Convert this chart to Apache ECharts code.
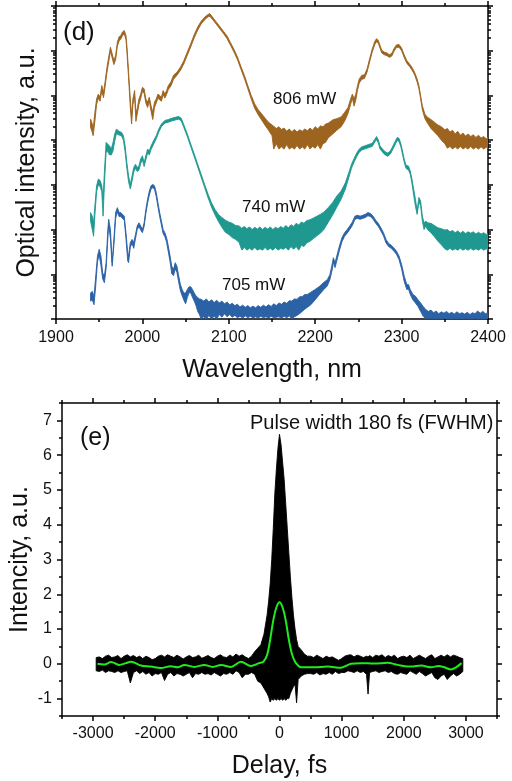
<!DOCTYPE html>
<html><head><meta charset="utf-8">
<script src="https://cdn.jsdelivr.net/npm/echarts@6/dist/echarts.min.js"></script>
<style>html,body{margin:0;padding:0;background:#fff}#c{width:512px;height:781px}</style>
</head><body><div id="c"></div>
<script>
// ---- Panel (d): spectra, values in decades of the log intensity axis: [wavelength nm, upper, lower]
const spec806 = [[1940,4.47,4.29],[1942,4.36,4.17],[1943,4.25,4.10],[1945,4.62,4.42],[1947,4.92,4.80],[1949,5.03,4.94],[1951,4.96,4.87],[1953,5.22,5.10],[1955,5.07,4.95],[1957,5.33,5.22],[1959,5.63,5.52],[1961,5.86,5.75],[1963,6.08,5.99],[1965,5.93,5.84],[1967,5.78,5.69],[1969,5.89,5.80],[1971,6.19,6.10],[1973,6.31,6.22],[1975,6.34,6.26],[1977,6.42,6.34],[1979,6.45,6.38],[1981,6.34,6.25],[1982,6.12,6.00],[1984,5.52,5.40],[1986,4.92,4.74],[1987.5,4.55,4.36],[1989,4.92,4.79],[1991,5.11,4.98],[1992.5,4.62,4.42],[1994,4.70,4.58],[1996,4.92,4.80],[1998,5.03,4.93],[2000,5.18,5.09],[2002,5.15,5.05],[2004,4.92,4.83],[2006,4.85,4.73],[2008,4.96,4.87],[2010,4.77,4.65],[2012,4.62,4.46],[2014,4.85,4.73],[2016,4.92,4.83],[2018,5.03,4.94],[2020,5.00,4.90],[2022,4.96,4.87],[2024,5.11,5.02],[2026,5.03,4.94],[2028,5.11,5.02],[2030,5.22,5.13],[2033,5.30,5.21],[2036,5.45,5.36],[2040,5.52,5.45],[2044,5.63,5.56],[2048,5.78,5.71],[2052,5.97,5.90],[2056,6.16,6.09],[2060,6.36,6.29],[2064,6.53,6.46],[2068,6.66,6.60],[2072,6.75,6.69],[2076,6.81,6.76],[2078,6.83,6.77],[2082,6.73,6.68],[2086,6.63,6.58],[2090,6.53,6.48],[2094,6.43,6.38],[2098,6.33,6.27],[2102,6.18,6.12],[2106,6.03,5.97],[2110,5.86,5.80],[2114,5.65,5.59],[2118,5.45,5.38],[2122,5.22,5.15],[2126,5.00,4.92],[2130,4.81,4.71],[2134,4.68,4.57],[2138,4.59,4.45],[2142,4.49,4.33],[2146,4.40,4.22],[2150,4.34,4.10],[2152,4.31,3.80],[2155,4.26,3.92],[2158,4.30,3.80],[2161,4.24,3.85],[2164,4.27,3.80],[2167,4.20,3.90],[2170,4.25,3.80],[2173,4.19,3.84],[2176,4.24,3.80],[2179,4.18,3.88],[2182,4.23,3.80],[2185,4.20,3.85],[2188,4.25,3.80],[2191,4.21,3.90],[2194,4.27,3.80],[2197,4.22,3.86],[2200,4.30,3.82],[2203,4.25,3.90],[2206,4.32,3.80],[2209,4.30,3.92],[2212,4.36,3.95],[2215,4.38,4.05],[2218,4.42,4.10],[2221,4.46,4.15],[2225,4.48,4.22],[2230,4.52,4.30],[2234,4.62,4.42],[2238,4.73,4.60],[2241,4.92,4.80],[2243,5.03,4.94],[2245,4.92,4.76],[2247,5.03,4.90],[2249,5.22,5.12],[2251,5.37,5.28],[2254,5.45,5.36],[2257,5.46,5.38],[2260,5.59,5.52],[2263,5.82,5.75],[2266,6.04,5.97],[2269,6.21,6.14],[2271,6.27,6.20],[2273,6.23,6.17],[2275,6.12,6.06],[2277,6.01,5.95],[2280,5.97,5.91],[2283,5.95,5.89],[2286,5.91,5.85],[2289,5.95,5.89],[2291,6.04,5.98],[2294,6.13,6.07],[2297,6.14,6.08],[2300,6.06,6.00],[2303,5.91,5.85],[2306,5.78,5.72],[2309,5.71,5.65],[2312,5.63,5.57],[2315,5.52,5.46],[2318,5.37,5.30],[2320,5.22,5.15],[2322,5.00,4.93],[2324,4.77,4.68],[2327,4.58,4.48],[2330,4.51,4.38],[2334,4.46,4.26],[2338,4.40,4.18],[2342,4.34,4.10],[2346,4.30,4.00],[2350,4.23,3.92],[2353,4.26,3.82],[2356,4.18,3.86],[2359,4.22,3.80],[2362,4.14,3.85],[2365,4.20,3.80],[2368,4.11,3.86],[2371,4.16,3.80],[2374,4.09,3.84],[2377,4.14,3.80],[2380,4.08,3.86],[2383,4.12,3.80],[2386,4.06,3.84],[2389,4.11,3.80],[2392,4.05,3.85],[2395,4.08,3.80],[2398,4.03,3.84],[2400,4.06,3.82]];
const spec740 = [[1940,2.38,2.19],[1942,2.30,2.00],[1943.5,2.15,1.85],[1945,2.53,2.32],[1947,2.98,2.85],[1949,3.13,3.00],[1951,3.10,2.96],[1953,2.98,2.85],[1954.5,2.68,2.30],[1956,3.28,3.00],[1958,3.95,3.74],[1960,3.91,3.74],[1962,3.87,3.67],[1964,3.80,3.67],[1966,3.95,3.76],[1968,4.14,3.98],[1970,4.25,4.15],[1972,4.21,4.12],[1974,4.19,4.11],[1976,4.17,4.09],[1978,4.10,4.00],[1980,3.87,3.74],[1982,3.50,3.37],[1984,3.20,3.07],[1986,3.01,2.91],[1988,3.20,3.08],[1990,3.39,3.29],[1992,3.46,3.37],[1994,3.39,3.30],[1996,3.42,3.33],[1998,3.58,3.48],[2000,3.65,3.56],[2002,3.50,3.41],[2004,3.65,3.56],[2006,3.80,3.71],[2008,3.76,3.67],[2010,3.87,3.79],[2013,3.99,3.91],[2016,4.10,4.03],[2019,4.25,4.18],[2022,4.36,4.30],[2026,4.44,4.38],[2030,4.46,4.40],[2034,4.49,4.43],[2038,4.51,4.45],[2042,4.53,4.47],[2045,4.49,4.43],[2048,4.34,4.28],[2052,4.14,4.08],[2056,3.91,3.85],[2060,3.69,3.63],[2064,3.46,3.40],[2068,3.24,3.17],[2072,3.01,2.94],[2076,2.79,2.71],[2080,2.60,2.50],[2084,2.45,2.33],[2088,2.34,2.18],[2092,2.27,2.05],[2096,2.21,1.94],[2100,2.17,1.89],[2104,2.14,1.82],[2108,2.09,1.78],[2112,2.08,1.71],[2115,2.03,1.54],[2118,2.07,1.60],[2121,2.02,1.54],[2124,2.06,1.58],[2127,2.00,1.54],[2130,2.05,1.60],[2133,2.01,1.54],[2136,2.06,1.57],[2139,2.00,1.54],[2142,2.05,1.60],[2145,2.01,1.54],[2148,2.06,1.58],[2151,2.00,1.54],[2154,2.05,1.60],[2157,2.02,1.54],[2160,2.07,1.58],[2163,2.03,1.56],[2166,2.09,1.60],[2169,2.04,1.54],[2172,2.11,1.62],[2175,2.07,1.56],[2178,2.14,1.62],[2181,2.10,1.54],[2184,2.17,1.65],[2187,2.14,1.62],[2190,2.20,1.70],[2194,2.22,1.74],[2198,2.26,1.80],[2202,2.30,1.86],[2206,2.34,1.92],[2210,2.39,2.00],[2215,2.49,2.16],[2220,2.60,2.32],[2225,2.75,2.50],[2230,2.86,2.68],[2235,3.05,2.91],[2239,3.28,3.17],[2242,3.46,3.37],[2245,3.59,3.51],[2248,3.71,3.63],[2251,3.80,3.73],[2254,3.85,3.78],[2257,3.87,3.80],[2260,3.89,3.82],[2263,3.91,3.84],[2266,3.93,3.86],[2269,4.02,3.96],[2271,4.08,4.01],[2273,4.01,3.94],[2275,3.87,3.80],[2278,3.80,3.73],[2281,3.74,3.67],[2284,3.71,3.64],[2287,3.76,3.69],[2290,3.87,3.80],[2293,3.99,3.92],[2295,4.06,3.99],[2297,4.04,3.97],[2299,3.93,3.86],[2301,3.76,3.69],[2303,3.58,3.51],[2305,3.44,3.37],[2308,3.42,3.33],[2310,3.31,3.24],[2312,3.13,3.03],[2314,2.90,2.77],[2316,2.68,2.52],[2318,2.42,2.34],[2320,2.72,2.61],[2322,2.64,2.54],[2324,2.30,2.19],[2326,2.15,2.00],[2328,2.19,2.08],[2330,2.15,2.00],[2334,2.14,1.93],[2338,2.09,1.84],[2342,2.04,1.74],[2346,2.02,1.66],[2350,1.99,1.57],[2353,2.00,1.54],[2356,1.95,1.58],[2359,1.98,1.54],[2362,1.93,1.57],[2365,1.97,1.54],[2368,1.92,1.58],[2371,1.96,1.54],[2374,1.91,1.57],[2377,1.95,1.54],[2380,1.92,1.58],[2383,1.95,1.54],[2386,1.90,1.57],[2389,1.94,1.54],[2392,1.90,1.58],[2395,1.93,1.54],[2398,1.89,1.57],[2400,1.91,1.54]];
const spec705 = [[1940,0.58,0.40],[1942,0.62,0.43],[1944,0.51,0.32],[1946,0.96,0.75],[1948,1.41,1.28],[1950,1.56,1.43],[1952,1.41,1.20],[1954,1.03,0.90],[1956,0.96,0.81],[1958,1.26,1.13],[1960,2.00,1.80],[1961,2.23,2.10],[1963,2.00,1.80],[1965,1.26,1.18],[1967,1.78,1.65],[1969,2.38,2.25],[1971,2.49,2.40],[1973,2.38,2.29],[1975,2.38,2.29],[1977,2.34,2.25],[1979,2.30,2.21],[1981,1.93,1.80],[1983,1.48,1.30],[1984,1.41,1.26],[1986,1.71,1.61],[1988,1.78,1.69],[1990,1.71,1.58],[1992,1.89,1.80],[1994,2.08,2.00],[1996,2.15,2.07],[1998,2.08,1.99],[2000,2.00,1.93],[2002,2.15,2.07],[2004,2.45,2.36],[2006,2.68,2.59],[2008,2.86,2.77],[2010,2.98,2.90],[2012,3.01,2.94],[2014,2.98,2.90],[2016,2.83,2.74],[2018,2.60,2.51],[2020,2.38,2.29],[2022,2.19,2.10],[2024,2.00,1.91],[2026,1.93,1.84],[2028,1.82,1.72],[2030,1.63,1.50],[2032,1.41,1.28],[2034,1.18,1.01],[2036,1.11,0.97],[2038,1.26,1.12],[2040,1.18,1.04],[2042,0.96,0.82],[2044,0.77,0.63],[2046,0.66,0.52],[2048,0.58,0.42],[2050,0.58,0.34],[2052,0.66,0.48],[2054,0.72,0.59],[2056,0.72,0.58],[2058,0.66,0.48],[2060,0.58,0.40],[2062,0.52,0.30],[2064,0.48,0.17],[2066,0.45,0.10],[2068,0.44,0.00],[2071,0.40,0.05],[2074,0.45,0.00],[2077,0.38,0.08],[2080,0.43,0.00],[2083,0.37,0.06],[2086,0.42,0.00],[2089,0.36,0.10],[2092,0.40,0.04],[2095,0.34,0.12],[2098,0.38,0.05],[2101,0.32,0.10],[2104,0.35,0.04],[2107,0.30,0.08],[2110,0.33,0.03],[2113,0.27,0.06],[2116,0.31,0.02],[2119,0.26,0.07],[2122,0.30,0.03],[2125,0.25,0.06],[2128,0.29,0.02],[2131,0.25,0.05],[2134,0.30,0.02],[2137,0.26,0.06],[2140,0.31,0.03],[2143,0.27,0.05],[2146,0.32,0.02],[2149,0.28,0.06],[2152,0.34,0.03],[2155,0.30,0.04],[2158,0.36,0.05],[2161,0.33,0.02],[2164,0.38,0.06],[2167,0.35,0.03],[2170,0.41,0.07],[2173,0.40,0.00],[2176,0.45,0.05],[2179,0.44,0.08],[2182,0.50,0.12],[2185,0.50,0.17],[2188,0.55,0.22],[2191,0.55,0.26],[2195,0.60,0.32],[2200,0.66,0.43],[2205,0.73,0.55],[2210,0.82,0.66],[2214,0.88,0.74],[2217,0.99,0.88],[2220,1.26,1.13],[2221,1.37,1.27],[2223,1.26,1.15],[2225,1.41,1.30],[2228,1.63,1.53],[2231,1.82,1.73],[2234,1.93,1.85],[2237,2.00,1.92],[2240,2.08,2.00],[2243,2.17,2.09],[2246,2.30,2.23],[2249,2.32,2.25],[2252,2.30,2.23],[2255,2.32,2.25],[2258,2.34,2.27],[2261,2.38,2.31],[2264,2.36,2.29],[2267,2.30,2.23],[2270,2.21,2.14],[2273,2.14,2.07],[2276,2.04,1.97],[2279,1.93,1.86],[2282,1.78,1.70],[2285,1.69,1.62],[2288,1.65,1.58],[2291,1.59,1.52],[2294,1.52,1.45],[2297,1.41,1.33],[2300,1.22,1.12],[2303,0.96,0.84],[2306,0.77,0.66],[2308,0.77,0.67],[2310,0.66,0.55],[2313,0.55,0.43],[2316,0.51,0.36],[2319,0.43,0.28],[2322,0.36,0.17],[2325,0.28,0.06],[2328,0.21,0.00],[2331,0.17,0.03],[2334,0.20,0.00],[2337,0.14,0.02],[2340,0.18,0.00],[2343,0.12,0.02],[2346,0.16,0.00],[2349,0.13,0.02],[2352,0.17,0.00],[2355,0.12,0.01],[2358,0.15,0.00],[2361,0.11,0.02],[2364,0.16,0.00],[2367,0.12,0.01],[2370,0.14,0.00],[2373,0.11,0.02],[2376,0.15,0.00],[2379,0.10,0.01],[2382,0.14,0.00],[2385,0.12,0.02],[2388,0.18,0.00],[2391,0.13,0.01],[2394,0.17,0.00],[2397,0.12,0.02],[2400,0.14,0.00]];
const specNames = ['806 mW', '740 mW', '705 mW'];
const wlMajorTicks = [1900, 2000, 2100, 2200, 2300, 2400];
const wlMinorTicks = [1950, 2050, 2150, 2250, 2350];
const decadeTicks = [0, 1, 2, 3, 4, 5, 6, 7];

// ---- Panel (e): autocorrelation trace [delay fs, upper, lower] and fit
const acTrace = [[-2950,0.18,-0.2],[-2900,0.2,-0.22],[-2850,0.15,-0.18],[-2800,0.22,-0.25],[-2750,0.25,-0.2],[-2700,0.18,-0.22],[-2650,0.2,-0.25],[-2600,0.24,-0.2],[-2550,0.15,-0.25],[-2500,0.22,-0.22],[-2450,0.26,-0.2],[-2400,0.2,-0.55],[-2350,0.24,-0.25],[-2300,0.18,-0.2],[-2250,0.22,-0.28],[-2200,0.15,-0.22],[-2150,0.22,-0.3],[-2100,0.18,-0.25],[-2050,0.12,-0.35],[-2000,0.15,-0.28],[-1950,0.22,-0.3],[-1900,0.25,-0.25],[-1850,0.2,-0.48],[-1800,0.26,-0.3],[-1750,0.22,-0.25],[-1700,0.18,-0.35],[-1650,0.25,-0.28],[-1600,0.2,-0.3],[-1550,0.14,-0.35],[-1500,0.2,-0.3],[-1450,0.24,-0.25],[-1400,0.18,-0.4],[-1350,0.2,-0.28],[-1300,0.25,-0.3],[-1250,0.16,-0.25],[-1200,0.2,-0.3],[-1150,0.24,-0.28],[-1100,0.18,-0.32],[-1050,0.15,-0.25],[-1000,0.22,-0.3],[-950,0.26,-0.35],[-900,0.2,-0.28],[-850,0.18,-0.3],[-800,0.25,-0.25],[-750,0.2,-0.3],[-700,0.28,-0.2],[-650,0.22,-0.25],[-600,0.26,-0.4],[-550,0.2,-0.3],[-500,0.15,-0.3],[-450,0.22,-0.25],[-400,0.35,-0.3],[-350,0.45,-0.5],[-300,0.55,-0.55],[-250,0.85,-0.7],[-200,1.4,-0.85],[-175,1.8,-0.95],[-150,2.3,-1.1],[-125,3.0,-1.0],[-100,3.9,-1.05],[-75,4.9,-1.0],[-50,5.6,-1.05],[-25,6.2,-1.0],[0,6.6,-1.05],[25,6.3,-1.0],[50,5.8,-1.05],[75,5.3,-1.0],[100,4.6,-1.05],[125,3.9,-1.0],[150,3.2,-1.0],[175,2.5,-0.85],[200,1.9,-0.75],[225,1.4,-0.65],[250,1.0,-0.6],[275,0.7,-1.12],[300,0.5,-0.45],[350,0.4,-0.35],[400,0.28,-0.3],[450,0.22,-0.28],[500,0.22,-0.28],[550,0.18,-0.3],[600,0.25,-0.25],[650,0.2,-0.32],[700,0.15,-0.28],[750,0.22,-0.3],[800,0.18,-0.25],[850,0.2,-0.3],[900,0.15,-0.22],[950,0.1,-0.28],[1000,0.15,-0.25],[1050,0.22,-0.25],[1100,0.25,-0.2],[1150,0.26,-0.22],[1200,0.2,-0.25],[1250,0.25,-0.2],[1300,0.22,-0.25],[1350,0.18,-0.22],[1400,0.22,-0.3],[1425,0.2,-0.87],[1450,0.24,-0.25],[1500,0.18,-0.22],[1550,0.25,-0.2],[1600,0.22,-0.25],[1650,0.26,-0.22],[1700,0.18,-0.2],[1750,0.24,-0.25],[1800,0.2,-0.22],[1850,0.25,-0.28],[1900,0.15,-0.3],[1950,0.2,-0.25],[2000,0.22,-0.28],[2050,0.18,-0.3],[2100,0.25,-0.2],[2150,0.15,-0.25],[2200,0.2,-0.3],[2250,0.25,-0.22],[2300,0.2,-0.28],[2350,0.15,-0.35],[2400,0.22,-0.3],[2450,0.26,-0.25],[2500,0.15,-0.4],[2550,0.2,-0.45],[2600,0.25,-0.35],[2650,0.2,-0.3],[2700,0.26,-0.45],[2750,0.2,-0.35],[2800,0.25,-0.28],[2850,0.22,-0.35],[2900,0.18,-0.3],[2950,0.15,-0.22]];
const acFit = [[-2930,0.0],[-2820,-0.02],[-2710,0.05],[-2580,-0.03],[-2470,0.02],[-2390,0.06],[-2230,-0.05],[-2070,-0.08],[-1910,-0.12],[-1750,-0.07],[-1640,-0.1],[-1530,-0.03],[-1370,-0.09],[-1210,-0.03],[-1075,-0.09],[-940,-0.03],[-780,-0.09],[-620,0.06],[-460,-0.06],[-330,0.02],[-260,0.06],[-200,0.25],[-150,0.7],[-100,1.25],[-50,1.62],[0,1.77],[50,1.62],[100,1.25],[150,0.7],[200,0.28],[250,0.06],[300,-0.05],[350,-0.1],[560,-0.1],[775,-0.08],[990,-0.11],[1150,0.0],[1310,0.02],[1525,0.01],[1740,0.03],[1900,-0.03],[2115,-0.08],[2280,-0.05],[2440,-0.1],[2560,-0.06],[2650,-0.1],[2760,-0.16],[2840,-0.1],[2930,0.02]];
const delayMajorTicks = [-3000, -2000, -1000, 0, 1000, 2000, 3000];
const delayMinorTicks = [-3500, -2500, -1500, -500, 500, 1500, 2500, 3500];
const intensityTicks = [-1, 0, 1, 2, 3, 4, 5, 6, 7];
const intensityMinorTicks = [-1.5, -0.5, 0.5, 1.5, 2.5, 3.5, 4.5, 5.5, 6.5, 7.5];

// log-spaced minor tick positions within each decade
const decadeMinorTicks = [];
for (let d = 0; d < 7; d++) for (let k = 2; k <= 9; k++) decadeMinorTicks.push(+(d + Math.log10(k)).toFixed(4));

const FONT = 'Liberation Sans, Arial, sans-serif';
const INK = '#111';
const AX = { color: '#000', width: 1.5 };
const plain = v => String(v);

function axPair(grid, min, max, pos, major, minor, opts) {
  const base = { gridIndex: grid, type: 'value', min, max, position: pos, splitLine: { show: false } };
  return [
    Object.assign({}, base, {
      axisLine: { show: true, onZero: false, lineStyle: AX },
      axisTick: { show: true, customValues: major, length: 5, lineStyle: AX },
      axisLabel: opts.labels ? { show: true, customValues: major, formatter: plain, margin: opts.margin, fontSize: 16, color: INK, fontFamily: FONT } : { show: false },
      name: opts.name || '', nameLocation: 'middle', nameGap: opts.nameGap || 0, nameMoveOverlap: false,
      nameTextStyle: { fontSize: 25, color: INK, fontFamily: FONT }
    }),
    Object.assign({}, base, {
      axisLine: { show: false, onZero: false },
      axisTick: { show: true, customValues: minor, length: 3, lineStyle: AX },
      axisLabel: { show: false }
    })
  ];
}

// band = one filled polygon between the upper and lower readings of a trace
function bandSeries(data, color, xi, yi, lw) {
  return {
    type: 'custom', xAxisIndex: xi, yAxisIndex: yi, silent: true, clip: true, animation: false,
    data: [[data[0][0], data[0][1]]],
    renderItem: function (params, api) {
      const pts = [];
      for (let i = 0; i < data.length; i++) pts.push(api.coord([data[i][0], data[i][1]]));
      for (let i = data.length - 1; i >= 0; i--) pts.push(api.coord([data[i][0], data[i][2]]));
      return { type: 'polygon', shape: { points: pts },
        style: { fill: color, stroke: color, lineWidth: lw, lineJoin: 'round' } };
    }
  };
}

const xAxes = [].concat(
  axPair(0, 1900, 2400, 'bottom', wlMajorTicks, wlMinorTicks, { labels: true, margin: 11, name: 'Wavelength, nm', nameGap: 39 }),
  axPair(0, 1900, 2400, 'top', wlMajorTicks, wlMinorTicks, { labels: false }),
  axPair(1, -3500, 3500, 'bottom', delayMajorTicks, delayMinorTicks, { labels: true, margin: 10, name: 'Delay, fs', nameGap: 38 }),
  axPair(1, -3500, 3500, 'top', delayMajorTicks, delayMinorTicks, { labels: false })
);
const yAxes = [].concat(
  axPair(0, 0, 7, 'left', decadeTicks, decadeMinorTicks, { labels: false, name: 'Optical intensity, a.u.', nameGap: 16 }),
  axPair(0, 0, 7, 'right', decadeTicks, decadeMinorTicks, { labels: false }),
  axPair(1, -1.5, 7.5, 'left', intensityTicks, intensityMinorTicks, { labels: true, margin: 10, name: 'Intencity, a.u.', nameGap: 29 }),
  axPair(1, -1.5, 7.5, 'right', intensityTicks, intensityMinorTicks, { labels: false })
);

const series = [
  bandSeries(spec705, '#2B62A5', 0, 0, 0.9),
  bandSeries(spec740, '#1F9990', 0, 0, 0.9),
  bandSeries(spec806, '#9C641F', 0, 0, 0.9),
  bandSeries(acTrace, '#000000', 4, 4, 0.9),
  { type: 'line', xAxisIndex: 4, yAxisIndex: 4, symbol: 'none', smooth: 0.35, silent: true,
    lineStyle: { color: '#1FEA1F', width: 2 }, data: acFit, animation: false, z: 5 }
];

function txt(x, y, text, size) {
  return { type: 'text', x, y, silent: true, z: 100,
    style: { text, fill: INK, font: size + 'px ' + FONT, textAlign: 'left', textVerticalAlign: 'middle', align: 'left', verticalAlign: 'middle' } };
}

const chart = echarts.init(document.getElementById('c'), null, { renderer: 'canvas' });
chart.setOption({
  animation: false,
  backgroundColor: '#fff',
  grid: [
    { left: 56, top: 6, width: 432, height: 313, containLabel: false, outerBoundsMode: 'none' },
    { left: 62, top: 403, width: 435, height: 313, containLabel: false, outerBoundsMode: 'none' }
  ],
  xAxis: xAxes,
  yAxis: yAxes,
  series,
  graphic: [
    txt(63, 33, '(d)', 26),
    txt(273, 99, specNames[0], 17),
    txt(242, 207, specNames[1], 17),
    txt(222, 285, specNames[2], 17),
    txt(80, 438, '(e)', 25),
    txt(250, 423, 'Pulse width 180 fs (FWHM)', 20)
  ]
});
</script></body></html>
